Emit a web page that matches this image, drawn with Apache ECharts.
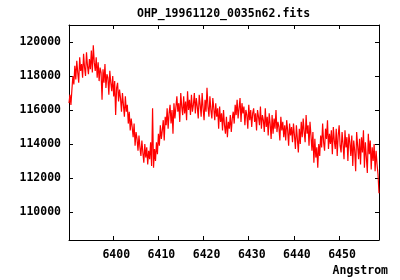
<!DOCTYPE html>
<html>
<head>
<meta charset="utf-8">
<script src="https://cdn.jsdelivr.net/npm/echarts@6/dist/echarts.min.js"></script>
<style>html,body{margin:0;padding:0;background:#fff}#c{width:400px;height:280px}</style>
</head>
<body>
<div id="c"></div>
<script>
const chartTitle = 'OHP_19961120_0035n62.fits';
const xAxisName = 'Angstrom';
// Spectrum sampling (FITS linear wavelength grid): start and step in Angstrom
const lambdaStart = 6390.2;
const lambdaStep = 0.2152;
// Flux values, one per sample
const flux = [
116400,116900,116300,117200,118000,117500,118600,117800,118900,118200,
117600,119100,118300,118700,117900,119300,118500,118000,119400,118600,
118100,119000,118400,119500,118200,119800,118800,118300,119100,117900,
118800,117700,118500,118200,116600,118400,117600,118700,117300,118100,
117900,116900,118300,117600,117100,118000,116800,117700,115700,117300,
117600,116500,117200,116700,115900,117000,116300,115600,116800,115900,
116300,115200,115900,114800,115500,115000,114400,115200,113900,114700,
114300,113600,114500,113800,113300,114200,113500,112900,114000,113200,
113800,112800,113600,113100,114100,112700,116100,112600,113700,113000,
114100,113400,114600,113900,115100,114300,114800,115400,114200,115600,
115100,116100,114900,115800,116300,115200,116000,114600,116400,115500,
115600,116800,115900,116400,115300,117000,116200,115700,116800,115800,
116500,115400,117100,116000,116600,115700,116900,115900,116300,117000,
115800,116700,116200,115500,116900,116300,115600,117000,116100,115400,
116600,115900,117300,116200,115600,116800,116000,115500,116700,116100,
115400,116400,115600,116100,114900,116200,115300,115800,114800,116000,
115100,114600,115600,114400,115300,114900,115700,114700,115500,115900,
115200,116300,115700,116600,115500,116100,116700,115300,116400,115800,
116200,115100,116000,115700,114900,116300,115400,116000,115000,115800,
116100,115300,115800,114800,116000,115600,115100,116200,114900,115700,
115400,114700,116100,115000,115600,114500,115800,115200,114300,115700,
114600,115500,114900,116000,114700,115300,115000,114200,115600,114800,
115300,114400,115100,114200,115400,114800,113900,115200,114500,115000,
114100,115200,114500,113700,115100,114300,113500,114900,114000,115300,
114400,115500,114700,114100,115700,114600,115100,113900,115300,114500,
113600,114700,112900,114300,113200,113800,112600,114000,113300,114500,
113800,115200,114100,113600,114900,114300,115400,113700,114600,114000,
114800,113400,115000,114200,113700,114900,113300,114500,115100,113900,
113500,114700,114000,113100,114800,113800,114400,113000,114600,114100,
113300,114500,112700,114200,113600,112400,114700,113900,113100,114300,
112800,114400,113500,114800,112600,114100,113200,112300,114600,113400,
114200,112500,113800,113000,114000,112400,113600,112800,112200,111100
];
const xTicks = [6400, 6410, 6420, 6430, 6440, 6450];
const yTicks = [110000, 112000, 114000, 116000, 118000, 120000];
const xMin = 6390.2, xMax = 6458.85;
const yMin = 108350, yMax = 121000;

const data = flux.map((f, i) => [lambdaStart + i * lambdaStep, f]);
const font = '"DejaVu Sans Mono", "Liberation Mono", monospace';

const chart = echarts.init(document.getElementById('c'), null, {renderer: 'canvas'});
const tickCommon = {show: true, inside: true, length: 4, lineStyle: {color: '#000', width: 1}};
const plain = v => String(v);
chart.setOption({
  animation: false,
  backgroundColor: '#fff',
  grid: {left: 69, right: 21, top: 25, bottom: 40, containLabel: false},
  xAxis: [{
    type: 'value', min: xMin, max: xMax, position: 'bottom',
    axisLine: {show: true, onZero: false, lineStyle: {color: '#000', width: 1}},
    axisTick: Object.assign({customValues: xTicks}, tickCommon),
    axisLabel: {customValues: xTicks, formatter: plain, color: '#000', fontFamily: font, fontWeight: 'bold', fontSize: 11.5, margin: 9, padding: [0, 0, 0, 6]},
    splitLine: {show: false}
  }, {
    type: 'value', min: xMin, max: xMax, position: 'top',
    axisLine: {show: true, onZero: false, lineStyle: {color: '#000', width: 1}},
    axisTick: Object.assign({customValues: xTicks}, tickCommon),
    axisLabel: {show: false},
    splitLine: {show: false}
  }],
  yAxis: [{
    type: 'value', min: yMin, max: yMax, position: 'left',
    axisLine: {show: true, onZero: false, lineStyle: {color: '#000', width: 1}},
    axisTick: Object.assign({customValues: yTicks}, tickCommon),
    axisLabel: {customValues: yTicks, formatter: plain, color: '#000', fontFamily: font, fontWeight: 'bold', fontSize: 11.5, margin: 8},
    splitLine: {show: false}
  }, {
    type: 'value', min: yMin, max: yMax, position: 'right',
    axisLine: {show: true, onZero: false, lineStyle: {color: '#000', width: 1}},
    axisTick: Object.assign({customValues: yTicks}, tickCommon),
    axisLabel: {show: false},
    splitLine: {show: false}
  }],
  graphic: [{
    type: 'text', left: 224 - 87, top: 8,
    style: {text: chartTitle, fill: '#000', font: 'bold 11.5px ' + font}
  }, {
    type: 'text', right: 12, top: 265,
    style: {text: xAxisName, fill: '#000', font: 'bold 11.5px ' + font}
  }],
  series: [{
    type: 'line', data: data, xAxisIndex: 0, yAxisIndex: 0,
    showSymbol: false, symbol: 'none', sampling: null,
    lineStyle: {color: '#ff0000', width: 1.2},
    itemStyle: {color: '#ff0000'},
    emphasis: {disabled: true}, silent: true
  }]
});
</script>
</body>
</html>
